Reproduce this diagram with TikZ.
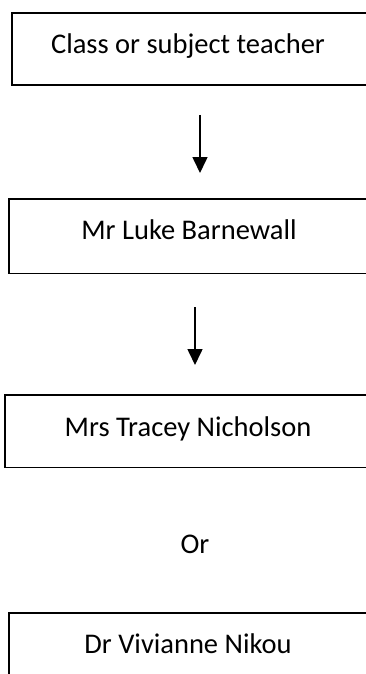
\documentclass[tikz,border=0pt]{standalone}
\usepackage{fontspec}
\setmainfont{Carlito}
\usetikzlibrary{arrows.meta,calc}
\begin{document}
\begin{tikzpicture}[x=1pt,y=-1pt,
  boxnode/.style={rectangle,minimum width=700pt,inner sep=0pt,anchor=north west},
  boxline/.style={draw=black,line width=1.8pt},
  lbl/.style={font=\fontsize{28.5}{34}\selectfont,anchor=base,inner sep=0pt},
  flowarrow/.style={line width=1.6pt,-{Triangle[width=15pt,length=16pt]}}]
\useasboundingbox (0,0) rectangle (365,674);
\node[boxnode,minimum height=72pt] (b1) at (12,13) {};
\node[boxnode,minimum height=74pt] (b2) at (9,199) {};
\node[boxnode,minimum height=72pt] (b3) at (5,395) {};
\node[boxnode,minimum height=80pt] (b4) at (9,613) {};
\foreach \b in {b1,b2,b3,b4}
  \draw[boxline] (\b.north east) -- (\b.north west) -- (\b.south west) -- (\b.south east);
\node[lbl] (t1) at (188,54) {Class or subject teacher};
\node[lbl] (t2) at (189,239) {Mr Luke Barnewall};
\node[lbl] (t3) at (188,436) {Mrs Tracey Nicholson};
\node[lbl] (t4) at (195,553) {Or};
\node[lbl] (t5) at (188,653) {Dr Vivianne Nikou};
\coordinate (a1s) at (200,115);
\coordinate (a1e) at (200,173);
\coordinate (a2s) at (195,307);
\coordinate (a2e) at (195,365);
\draw[flowarrow] (a1s) -- (a1e);
\draw[flowarrow] (a2s) -- (a2e);
\end{tikzpicture}
\end{document}
